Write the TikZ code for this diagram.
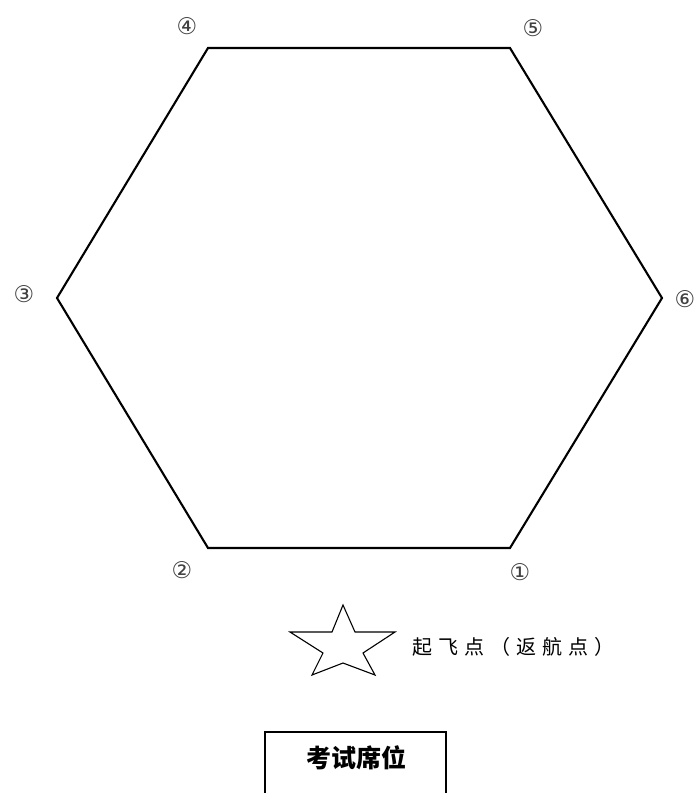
\documentclass[tikz,border=0pt]{standalone}
\usepackage{fontspec}
\newfontfamily\cjk{Noto Sans CJK SC}
\newfontfamily\cjkwide[LetterSpace=30]{Noto Sans CJK SC}
\newfontfamily\circnum{DejaVu Sans}
\usepackage{tikz}
\usepackage{xcolor}

\begin{document}
\begin{tikzpicture}[x=1pt, y=-1pt]
    \useasboundingbox (0,0) rectangle (697,793);
    \tikzset{numlabel/.style={font=\circnum\fontsize{23}{23}\selectfont, text=black!75, inner sep=0pt}}
    % hexagon track
    \draw[line width=2.1pt, line join=miter] (208,48) -- (510,48) -- (662,298) -- (510,548) -- (208,548) -- (57,298) -- cycle;
    \node[numlabel] (p1) at (520,572) {①};
    \node[numlabel] (p2) at (182,570) {②};
    \node[numlabel] (p3) at (24,294) {③};
    \node[numlabel] (p4) at (187,26) {④};
    \node[numlabel] (p5) at (533,28) {⑤};
    \node[numlabel] (p6) at (685,299) {⑥};
    % take-off point
    \draw[line width=1.1pt] (343,605) -- (355,632) -- (395,632) -- (363,653) -- (375,675) -- (343,663)
        -- (312,675) -- (323,653) -- (290,632) -- (332,632) -- cycle;
    \node[anchor=west, font=\cjkwide\fontsize{20}{20}\selectfont, inner sep=0pt] (home) at (412,647) {起飞点（返航点）};
    % exam seat
    \clip (0,0) rectangle (697,793);
    \draw[line width=1.8pt] (265,800) -- (265,732) -- (446,732) -- (446,800);
    \node[font=\cjk\bfseries\fontsize{25}{25}\selectfont, inner sep=0pt] (seat) at (356,758) {考试席位};
\end{tikzpicture}
\end{document}
